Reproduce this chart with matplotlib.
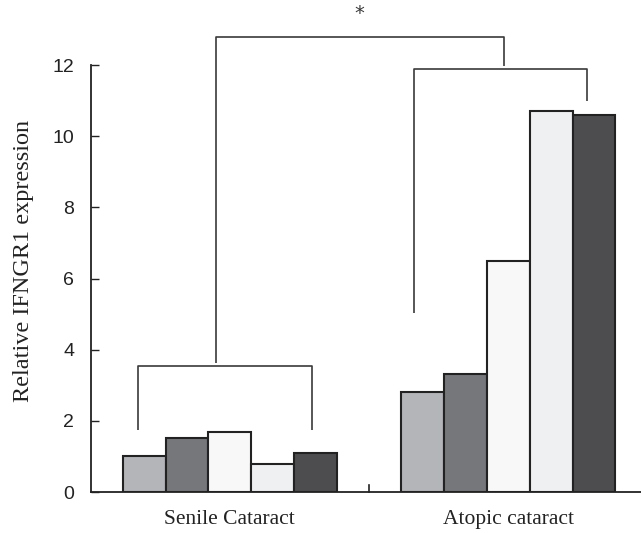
import numpy as np
import matplotlib
matplotlib.use("Agg")
import matplotlib.pyplot as plt

# data
groups = ["Senile Cataract", "Atopic cataract"]
senile = [1.01, 1.53, 1.69, 0.79, 1.09]
atopic = [2.82, 3.31, 6.49, 10.71, 10.61]
bar_colors = ["#b4b5b9", "#76777b", "#f8f8f8", "#eff0f2", "#4d4d4f"]
yticks = [0, 2, 4, 6, 8, 10, 12]

group_gap = 6.5  # offset of second group (in bar widths)

serif = ["Liberation Serif", "DejaVu Serif"]
narrow = ["Liberation Sans Narrow", "Liberation Sans", "DejaVu Sans"]

fig = plt.figure(figsize=(6.41, 5.33), dpi=100)
ax = fig.add_axes([0.1415, 0.0769, 0.8585, 0.801])

x1 = np.arange(len(senile))
x2 = np.arange(len(atopic)) + group_gap
ax.bar(x1, senile, width=1.0, color=bar_colors, edgecolor="#222222", linewidth=1.5, zorder=3)
ax.bar(x2, atopic, width=1.0, color=bar_colors, edgecolor="#222222", linewidth=1.5, zorder=3)

ax.set_xlim(-1.246, 11.596)
ax.set_ylim(0, 12)

# spines
ax.spines["top"].set_visible(False)
ax.spines["right"].set_visible(False)
for s in ("left", "bottom"):
    ax.spines[s].set_linewidth(1.3)
    ax.spines[s].set_color("#222222")

ax.set_yticks(yticks)
ax.set_yticklabels([str(t) for t in yticks], family=narrow, fontsize=14)
ax.tick_params(axis="y", direction="in", length=6, width=1.0, pad=12, colors="#222222")

ax.set_xticks([x1.mean(), x2.mean()])
ax.set_xticklabels(groups, family=serif, fontsize=15.5)
ax.tick_params(axis="x", length=0, pad=13, colors="#222222")

# separator tick between the groups
sep = (x1[-1] + x2[0]) / 2
ax.plot([sep, sep], [0, 0.2], color="#222222", lw=1.2, clip_on=False)

ax.set_ylabel("Relative IFNGR1 expression", family=serif,
              fontsize=17.5, color="#222222")
ax.yaxis.set_label_coords(-0.103, 0.541)

# significance brackets
lc = "#3a3a3a"
kw = dict(color=lc, lw=1.2, clip_on=False, solid_capstyle="butt")
# senile bracket
ax.plot([-0.135, -0.135, 3.925, 3.925], [1.74, 3.55, 3.55, 1.74], **kw)
# atopic bracket
ax.plot([6.31, 6.31, 10.33, 10.33], [5.02, 11.89, 11.89, 10.98], **kw)
# top bracket joining the two
ax.plot([1.67, 1.67, 8.40, 8.40], [3.63, 12.79, 12.79, 11.97], **kw)
ax.text(5.02, 13.45, "*", ha="center", va="center", fontsize=14, color=lc,
        family=["DejaVu Sans"], clip_on=False)

fig.savefig("out.png", dpi=100)
